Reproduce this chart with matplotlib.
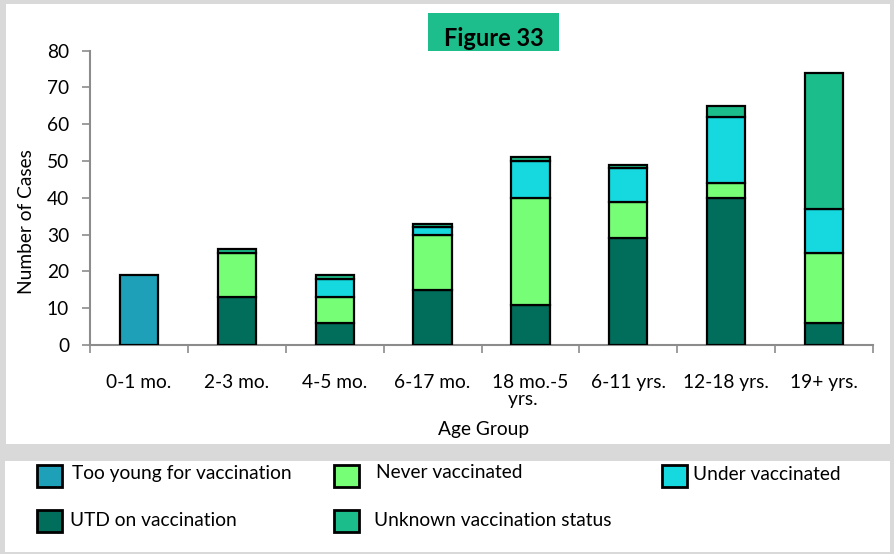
import matplotlib
matplotlib.use("Agg")
import matplotlib.pyplot as plt
from matplotlib.patches import Rectangle
import numpy as np

plt.rcParams['font.family'] = ['Lato', 'DejaVu Sans']

categories = ["0-1 mo.", "2-3 mo.", "4-5 mo.", "6-17 mo.", "18 mo.-5\nyrs.   ",
              "6-11 yrs.", "12-18 yrs.", "19+ yrs."]
too_young = [19, 0, 0, 0, 0, 0, 0, 0]
utd = [0, 13, 6, 15, 11, 29, 40, 6]
never = [0, 12, 7, 15, 29, 10, 4, 19]
under = [0, 0, 5, 2, 10, 9, 18, 12]
unknown = [0, 1, 1, 1, 1, 1, 3, 37]

series = [
    ("Too young for vaccination", too_young, "#1fa0b9"),
    ("UTD on vaccination", utd, "#006e5a"),
    ("Never vaccinated", never, "#76ff76"),
    ("Under vaccinated", under, "#15d9de"),
    ("Unknown vaccination status", unknown, "#1bbe8b"),
]

FS = 13.8
W, H = 894, 554
fig = plt.figure(figsize=(W / 100, H / 100), dpi=100)
fig.patch.set_facecolor("#d9d9d9")

def px(x0, y0, x1, y1):
    return (x0 / W, 1 - y1 / H, (x1 - x0) / W, (y1 - y0) / H)

# white panels
for (x0, y0, x1, y1) in [(6, 4, 890, 444), (5, 461, 890, 552)]:
    l, b, w, h = px(x0, y0, x1, y1)
    fig.patches.append(Rectangle((l, b), w, h, transform=fig.transFigure,
                                 facecolor="white", edgecolor="none", zorder=-5))

ax = fig.add_axes(px(90, 50.7, 873, 345))
ax.set_zorder(3)
ax.set_facecolor("white")
x = np.arange(len(categories))
bottom = np.zeros(len(categories))
for name, vals, col in series:
    v = np.array(vals, dtype=float)
    mask = v > 0
    ax.bar(x[mask], v[mask], bottom=bottom[mask], width=0.39, color=col,
           edgecolor="black", linewidth=1.6, zorder=3)
    bottom += v

ax.set_xlim(-0.5, len(categories) - 0.5)
ax.set_ylim(0, 80)
ax.set_yticks(np.arange(0, 81, 10))
ax.set_xticks(x)
ax.set_xticklabels(categories, fontsize=FS, linespacing=1.0)
ax.set_xticks(np.arange(-0.5, len(categories), 1.0), minor=True)
ax.tick_params(axis='x', which='major', length=0, pad=21)
ax.tick_params(axis='x', which='minor', length=6, color="#8c8c8c", width=1.2)
ax.tick_params(axis='y', length=6, color="#8c8c8c", width=1.2, labelsize=FS, pad=9)
for s in ["top", "right"]:
    ax.spines[s].set_visible(False)
for s in ["left", "bottom"]:
    ax.spines[s].set_color("#8c8c8c")
    ax.spines[s].set_linewidth(1.5)

fig.text(484 / W, 1 - 429 / H, "Age Group", ha="center", va="center", fontsize=FS)
fig.text(27 / W, 1 - 222 / H, "Number of Cases", ha="center", va="center",
         rotation=90, fontsize=FS)

# title box
l, b, w, h = px(428, 13, 559, 62)
fig.patches.append(Rectangle((l, b), w, h, transform=fig.transFigure,
                             facecolor="#1dbe8b", edgecolor="none", zorder=1))
fig.text((428 + 559) / 2 / W, 1 - 38 / H, "Figure 33", ha="center", va="center",
         fontsize=17, fontweight="bold", zorder=2)

# legend (manual layout)
legend_items = [
    ("Too young for vaccination", "#1fa0b9", 37, 476, 72),
    ("Never vaccinated", "#76ff76", 334, 476, 376),
    ("Under vaccinated", "#15d9de", 662, 476, 693),
    ("UTD on vaccination", "#006e5a", 37, 521, 70),
    ("Unknown vaccination status", "#1bbe8b", 334, 521, 374),
]
text_y = [474, 472, 474, 520, 520]
for (label, col, bx, by, tx), ty in zip(legend_items, text_y):
    fig.patches.append(Rectangle((bx / W, 1 - (by + 11) / H), 25 / W, 22 / H,
                                 transform=fig.transFigure, facecolor=col,
                                 edgecolor="black", linewidth=2, zorder=2))
    fig.text(tx / W, 1 - ty / H, label, ha="left", va="center", fontsize=FS)

fig.savefig("out.png", dpi=100, facecolor=fig.get_facecolor())
